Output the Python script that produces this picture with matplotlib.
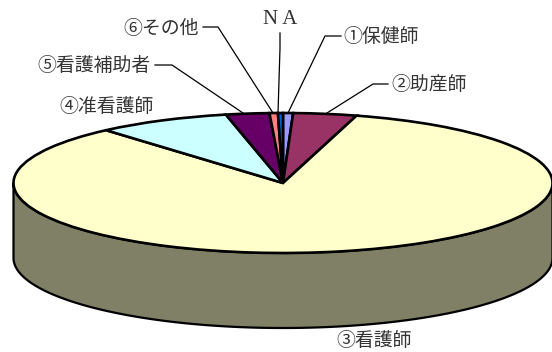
import numpy as np
import matplotlib
matplotlib.use("Agg")
import matplotlib.pyplot as plt
from matplotlib.patches import Polygon

categories = ["①保健師", "②助産師", "③看護師", "④准看護師", "⑤看護補助者", "⑥その他", "NA"]
values = [0.6, 3.8, 84.2, 8.0, 2.6, 0.5, 0.3]
colors = ["#9999FF", "#993366", "#FFFFCC", "#CCFFFF", "#660066", "#FF8080", "#0066CC"]
WALL = "#808066"
W, H = 552, 352
plt.rcParams['font.family'] = ['Noto Sans CJK JP', 'DejaVu Sans']

fig = plt.figure(figsize=(W/100, H/100), dpi=100)
L, T, PW, PH = 13.5, 113, 539, 140
ax = fig.add_axes([L/W, 1-(T+PH)/H, PW/W, PH/H])
ax.pie(values, colors=colors, startangle=90, counterclock=False, radius=1,
       wedgeprops=dict(edgecolor="black", linewidth=1.9, clip_on=False, zorder=3))
ax.set_aspect("auto")
ax.set_xlim(-1, 1); ax.set_ylim(-1, 1)
ax.axis("off")
depth = 75/70
t = np.linspace(np.pi, 2*np.pi, 300)
xs, ys = np.cos(t), np.sin(t)
verts = np.r_[np.c_[xs, ys], np.c_[xs[::-1], ys[::-1]-depth]]
ax.add_patch(Polygon(verts, closed=True, fc=WALL, ec="black", lw=1.6, clip_on=False, zorder=2))

ov = fig.add_axes([0, 0, 1, 1], zorder=5)
ov.set_xlim(0, W); ov.set_ylim(H, 0); ov.axis("off"); ov.patch.set_alpha(0)
labels = {
    categories[0]: (343, 36),
    categories[1]: (391, 84),
    categories[2]: (336, 340),
    categories[3]: (59, 106),
    categories[4]: (37, 65.5),
    categories[5]: (123, 28),
}
for k, (x, y) in labels.items():
    ov.text(x, y, k, fontsize=13.6, color="#333333", ha="left", va="center")
ov.text(280, 19, "N A", fontsize=15, family="Liberation Serif", color="#333333", ha="center", va="center")
leaders = [
    [(280, 33), (280, 48), (278, 113)],
    [(203, 27), (218, 27), (273, 113)],
    [(341, 36), (325, 36), (288, 113)],
    [(388, 84), (373, 84), (327, 113)],
    [(155, 65), (172, 65), (243, 113)],
]
for p in leaders:
    a = np.array(p)
    ov.plot(a[:, 0], a[:, 1], color="black", lw=0.9)
fig.savefig("out.png", dpi=100)
